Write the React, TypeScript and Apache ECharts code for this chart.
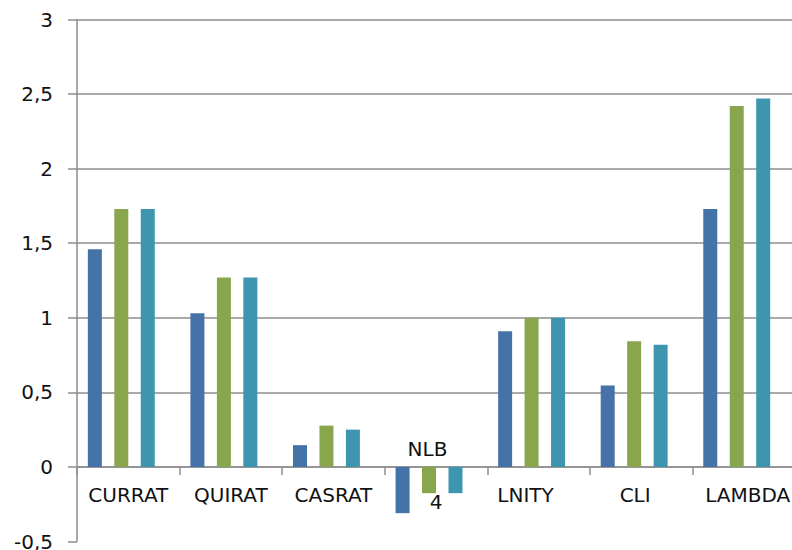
import React, { useEffect, useRef } from "react";
import * as echarts from "echarts";

const categories = ["CURRAT", "QUIRAT", "CASRAT", "NLB 4", "LNITY", "CLI", "LAMBDA"];
const seriesA = [1.46, 1.03, 0.146, -0.31, 0.91, 0.546, 1.73];
const seriesB = [1.73, 1.27, 0.277, -0.176, 1.0, 0.843, 2.42];
const seriesC = [1.73, 1.27, 0.25, -0.176, 1.0, 0.819, 2.47];
const colors = ["#4572A7", "#89A54E", "#3D96AE"];
const yMin = -0.5;
const yMax = 3;
const yStep = 0.5;

// horizontal nudge of each category label (px, negative = left), style only
const labelNudge = [0, 0, 0, 0, -13, -6, 4];

const FONT = "DejaVu Sans";
const GRID = "#8e8e8e";
const PLOT_H = 522;

export default function App() {
  const ref = useRef<HTMLDivElement>(null);
  useEffect(() => {
    if (!ref.current) return;
    const chart = echarts.init(ref.current, null, { renderer: "svg" });
    const catData = categories.map((c, i) => {
      const n = labelNudge[i];
      const padding = n < 0 ? [0, -2 * n, 0, 0] : [0, 0, 0, 2 * n];
      if (c.indexOf(" ") >= 0) {
        return { value: c, textStyle: { verticalAlign: "middle", lineHeight: 53 } };
      }
      return { value: c, textStyle: { padding } };
    });
    const bar = (name: string, data: (number | null)[], color: string, w: number) => ({
      type: "bar",
      name,
      data,
      barWidth: w,
      barGap: "89%",
      itemStyle: { color },
    });
    // x axis sits at value 0: shift it up from the grid bottom by (0 - yMin) in pixels
    const zeroOffset = -((0 - yMin) / (yMax - yMin)) * PLOT_H;
    chart.setOption({
      animation: false,
      backgroundColor: "#ffffff",
      grid: { left: 77, right: -3, top: 19.5, height: PLOT_H, outerBoundsMode: "none", containLabel: false },
      xAxis: {
        type: "category",
        data: catData,
        offset: zeroOffset,
        axisLine: { show: true, onZero: false, lineStyle: { color: GRID, width: 1.5 } },
        axisTick: { show: true, length: 8, lineStyle: { color: GRID, width: 1.5 } },
        axisLabel: {
          interval: 0,
          margin: 8.5,
          fontFamily: FONT,
          fontSize: 20,
          lineHeight: 40,
          color: "#111111",
          formatter: (v: string) => {
            const parts = v.split(" ");
            return parts.length > 1 ? `{a|${parts[0]}}\n{b|${parts.slice(1).join(" ")}}` : v;
          },
          rich: {
            a: { fontFamily: FONT, fontSize: 20, color: "#111111", lineHeight: 53, padding: [0, 17, 0, 0] },
            b: { fontFamily: FONT, fontSize: 20, color: "#111111", lineHeight: 53 },
          },
        },
      },
      yAxis: {
        type: "value",
        min: yMin,
        max: yMax,
        interval: yStep,
        axisLine: { show: true, lineStyle: { color: GRID, width: 1.5 } },
        axisTick: { show: true, length: 9, lineStyle: { color: GRID, width: 1.5 } },
        splitLine: { show: true, showMinLine: false, lineStyle: { color: GRID, width: 1.5 } },
        axisLabel: {
          margin: 24,
          fontFamily: FONT,
          fontSize: 20,
          color: "#111111",
          formatter: (v: number) => String(v).replace(".", ","),
        },
      },
      series: [
        bar("A", seriesA, colors[0], 14),
        bar("B", seriesB, colors[1], 14),
        bar("C", seriesC, colors[2], 14),
        bar("D", categories.map(() => null), "transparent", 1.5),
      ],
    });
    return () => chart.dispose();
  }, []);
  return (
    <div
      ref={ref}
      style={{ position: "absolute", left: 0, top: 0, width: 792, height: 550 }}
    />
  );
}
